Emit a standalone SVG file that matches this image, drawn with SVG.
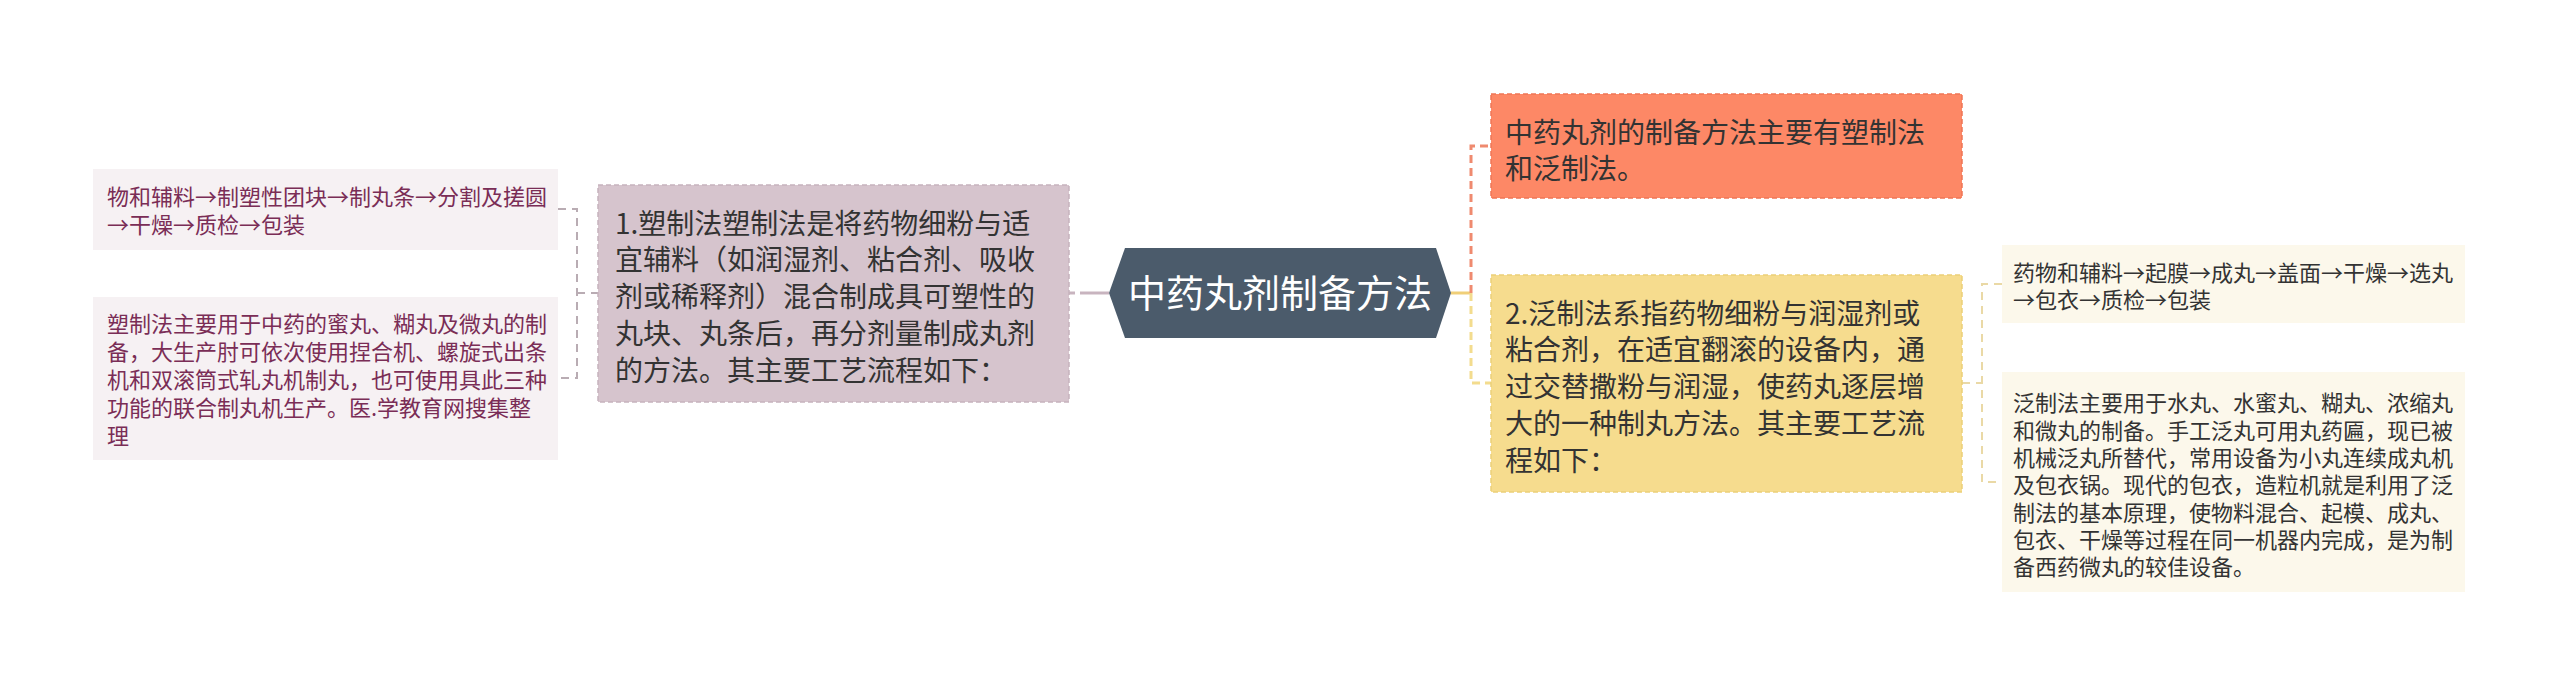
<svg xmlns="http://www.w3.org/2000/svg" width="2560" height="687" viewBox="0 0 2560 687">
<style>
text{font-family:"Noto Sans CJK SC","Noto Sans",sans-serif;}
.leafL{fill:#f6f1f3;}
.leafR{fill:#fcf8eb;}
.tL{font-size:22px;fill:#7a2d56;}
.tR{font-size:22px;fill:#333333;}
.tM{font-size:28px;fill:#333333;}
.cL{stroke:#b9acb3;stroke-width:2;fill:none;stroke-dasharray:8,6;}
.cR{stroke:#ead9a6;stroke-width:2;fill:none;stroke-dasharray:8,6;}
</style>
<rect width="2560" height="687" fill="#ffffff"/>
<g id="connectors">
  <path class="cL" d="M558,209 H577 V378 H558 M577,293 H598"/>
  <path d="M1069,293 H1075" stroke="#c8b4bf" stroke-width="3" fill="none"/>
  <path d="M1080,293 H1109" stroke="#c8b4bf" stroke-width="3" fill="none"/>
  <path d="M1451,293 H1471" stroke="#f0cf78" stroke-width="3" fill="none"/>
  <path d="M1471,293 V146 H1491" stroke="#ef8a6f" stroke-width="3" fill="none" stroke-dasharray="8,5"/>
  <path d="M1471,293 V383 H1491" stroke="#f3dc8e" stroke-width="3" fill="none" stroke-dasharray="8,5"/>
  <path class="cR" d="M1962,383 H1982 M2002,284 H1982 V482 H2002"/>
</g>
<g id="node-center">
  <polygon points="1109,293 1125,248 1436,248 1451,293 1436,338 1125,338" fill="#4b5b6b"/>
  <text x="1280" y="307" font-size="38" fill="#ffffff" text-anchor="middle">中药丸剂制备方法</text>
</g>
<g id="node-sz">
  <rect x="598" y="185" width="471" height="217" fill="#d6c4cd" stroke="#c6b2bd" stroke-width="1.5" stroke-dasharray="5,3"/>
  <text class="tM" x="615" y="233.5">1.塑制法塑制法是将药物细粉与适</text>
  <text class="tM" x="615" y="270.3">宜辅料（如润湿剂、粘合剂、吸收</text>
  <text class="tM" x="615" y="307">剂或稀释剂）混合制成具可塑性的</text>
  <text class="tM" x="615" y="343.8">丸块、丸条后，再分剂量制成丸剂</text>
  <text class="tM" x="615" y="380.5">的方法。其主要工艺流程如下：</text>
</g>
<g id="node-sz-flow">
  <rect class="leafL" x="93" y="169" width="465" height="81"/>
  <text class="tL" x="107" y="205">物和辅料→制塑性团块→制丸条→分割及搓圆</text>
  <text class="tL" x="107" y="233">→干燥→质检→包装</text>
</g>
<g id="node-sz-use">
  <rect class="leafL" x="93" y="297" width="465" height="163"/>
  <text class="tL" x="107" y="331.5">塑制法主要用于中药的蜜丸、糊丸及微丸的制</text>
  <text class="tL" x="107" y="359.5">备，大生产肘可依次使用捏合机、螺旋式出条</text>
  <text class="tL" x="107" y="387.5">机和双滚筒式轧丸机制丸，也可使用具此三种</text>
  <text class="tL" x="107" y="415.5">功能的联合制丸机生产。医.学教育网搜集整</text>
  <text class="tL" x="107" y="443.5">理</text>
</g>
<g id="node-intro">
  <rect x="1491" y="94" width="471" height="104" fill="#fd8866" stroke="#f07555" stroke-width="1.5" stroke-dasharray="5,3"/>
  <text class="tM" x="1505" y="142.6">中药丸剂的制备方法主要有塑制法</text>
  <text class="tM" x="1505" y="178.6">和泛制法。</text>
</g>
<g id="node-fz">
  <rect x="1491" y="275" width="471" height="217" fill="#f6dc8e" stroke="#eccf78" stroke-width="1.5" stroke-dasharray="5,3"/>
  <text class="tM" x="1505" y="323.6">2.泛制法系指药物细粉与润湿剂或</text>
  <text class="tM" x="1505" y="360.4">粘合剂，在适宜翻滚的设备内，通</text>
  <text class="tM" x="1505" y="397.1">过交替撒粉与润湿，使药丸逐层增</text>
  <text class="tM" x="1505" y="433.9">大的一种制丸方法。其主要工艺流</text>
  <text class="tM" x="1505" y="470.6">程如下：</text>
</g>
<g id="node-fz-flow">
  <rect class="leafR" x="2002" y="245" width="463" height="78"/>
  <text class="tR" x="2013" y="281.4">药物和辅料→起膜→成丸→盖面→干燥→选丸</text>
  <text class="tR" x="2013" y="308.4">→包衣→质检→包装</text>
</g>
<g id="node-fz-use">
  <rect class="leafR" x="2002" y="372" width="463" height="220"/>
  <text class="tR" x="2013" y="411.4">泛制法主要用于水丸、水蜜丸、糊丸、浓缩丸</text>
  <text class="tR" x="2013" y="438.7">和微丸的制备。手工泛丸可用丸药匾，现已被</text>
  <text class="tR" x="2013" y="466">机械泛丸所替代，常用设备为小丸连续成丸机</text>
  <text class="tR" x="2013" y="493.3">及包衣锅。现代的包衣，造粒机就是利用了泛</text>
  <text class="tR" x="2013" y="520.6">制法的基本原理，使物料混合、起模、成丸、</text>
  <text class="tR" x="2013" y="547.9">包衣、干燥等过程在同一机器内完成，是为制</text>
  <text class="tR" x="2013" y="575.2">备西药微丸的较佳设备。</text>
</g>
</svg>
